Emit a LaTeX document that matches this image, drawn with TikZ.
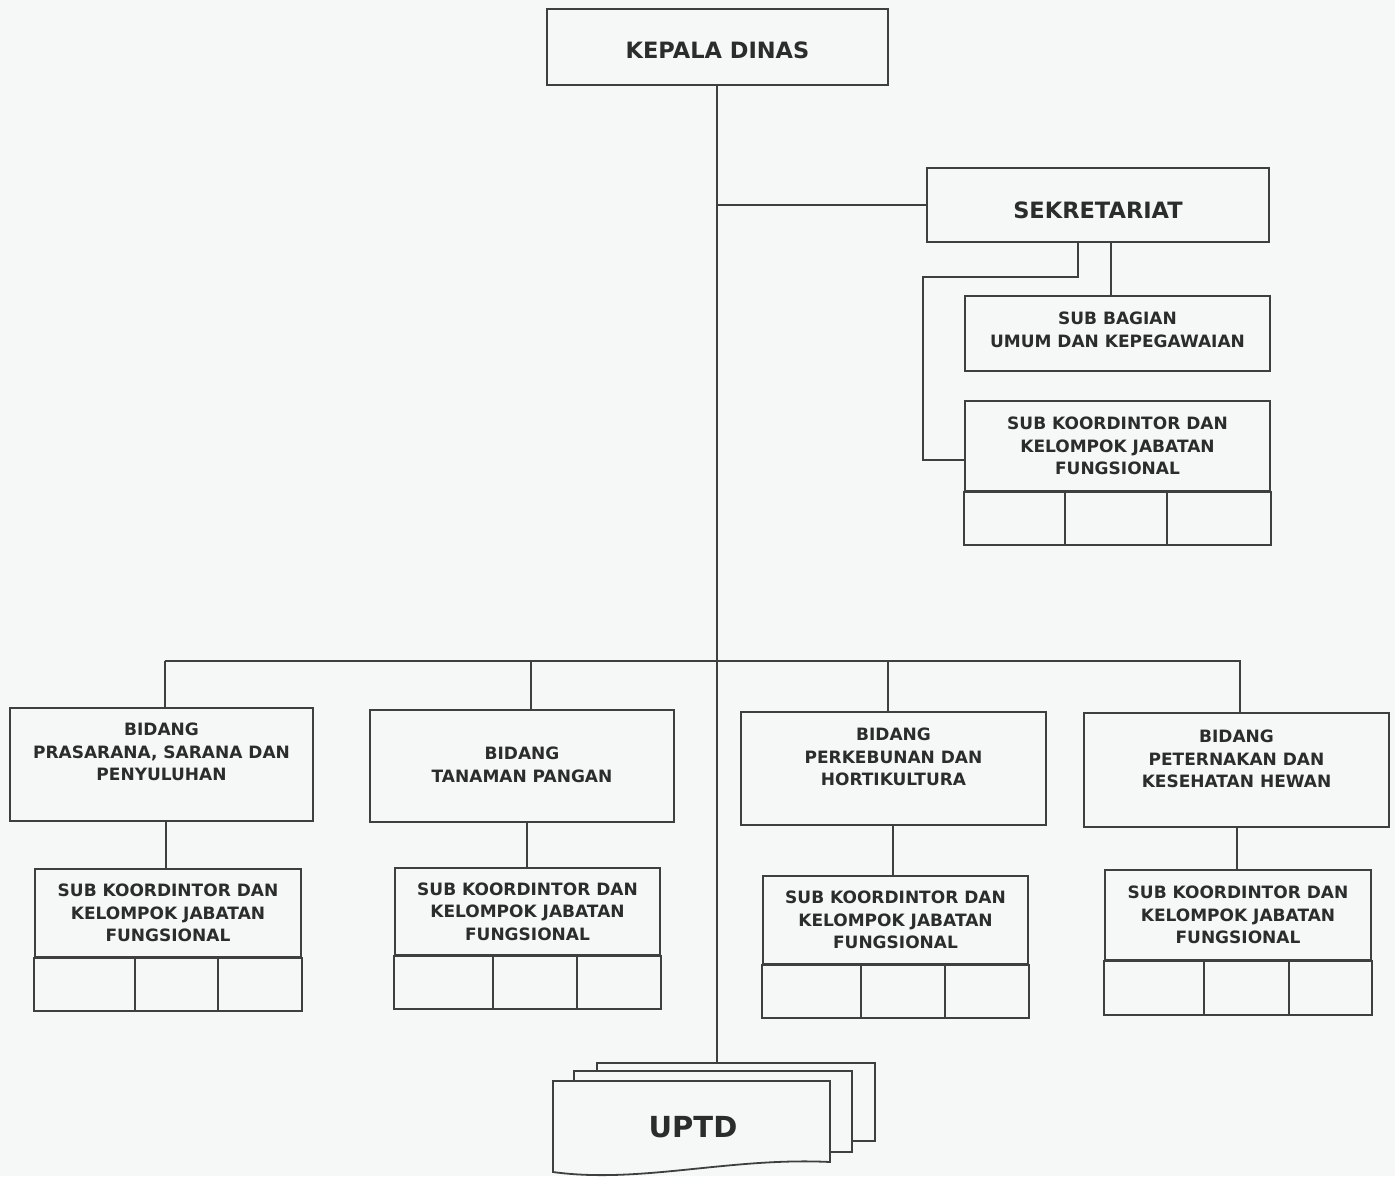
\documentclass[tikz,border=0pt]{standalone}
\usepackage{fontspec}
\setmainfont{DejaVu Sans}
\usetikzlibrary{calc}
\definecolor{lc}{HTML}{3F3F3F}
\definecolor{tc}{HTML}{2C2C2C}
\definecolor{bgc}{HTML}{F6F7F7}
\tikzset{
  box/.style={draw=lc, line width=1.8pt, inner sep=0pt, align=center, text=tc,
              font=\bfseries\fontsize{17}{22.5}\selectfont},
  lbl/.style={inner sep=0pt, align=center, text=tc, font=\bfseries\fontsize{17}{22.5}\selectfont},
  biglbl/.style={lbl, font=\bfseries\fontsize{22.5}{26}\selectfont},
  conn/.style={draw=lc, line width=1.8pt},
  pagebox/.style={draw=lc, line width=1.8pt, fill=bgc}
}
% sub koordinator box: name, cx, cy, width, height, cell height, v1, v2
\newcommand\subkbox[8]{%
  \node[box, minimum width=#4, minimum height=#5] (#1) at (#2,#3)
    {SUB KOORDINTOR DAN\\KELOMPOK JABATAN\\FUNGSIONAL};
  \draw[conn] (#1.south west) rectangle ([yshift=-#6]#1.south east);
  \draw[conn] ([xshift=#7]#1.south west) -- ++(0,#6);
  \draw[conn] ([xshift=#8]#1.south west) -- ++(0,#6);
}
\begin{document}
\begin{tikzpicture}[x=1pt,y=-1pt]
\fill[bgc] (0,0) rectangle (1395,1176);
\useasboundingbox (0,0) rectangle (1395,1176);

% top
\node[box, minimum width=341, minimum height=76] (kd) at (717.5,47) {};
\node[biglbl] (kdt) at ([yshift=-3.5]kd.center) {KEPALA DINAS};
\node[box, minimum width=342, minimum height=74] (sek) at (1098,205) {};
\node[biglbl] (sekt) at ([yshift=-5]sek.center) {SEKRETARIAT};
\node[box, minimum width=305, minimum height=75] (sb) at (1117.5,333.5) {};
\node[lbl] (sbt) at ([yshift=3.5]sb.center) {SUB BAGIAN\\UMUM DAN KEPEGAWAIAN};
\subkbox{sks}{1117.5}{446}{305}{90}{53}{101}{203}

% bidang
\node[box, minimum width=303, minimum height=113] (b1) at (161.5,764.5) {};
\node[box, minimum width=304, minimum height=112] (b2) at (522,766) {};
\node[box, minimum width=305, minimum height=113] (b3) at (893.5,768.5) {};
\node[box, minimum width=305, minimum height=114] (b4) at (1236.5,770) {};
\node[lbl] (b1t) at ([yshift=12.5]b1.center) {BIDANG\\PRASARANA, SARANA DAN\\PENYULUHAN};
\node[lbl] (b2t) at ([yshift=1]b2.center) {BIDANG\\TANAMAN PANGAN};
\node[lbl] (b3t) at ([yshift=11.5]b3.center) {BIDANG\\PERKEBUNAN DAN\\HORTIKULTURA};
\node[lbl] (b4t) at ([yshift=11]b4.center) {BIDANG\\PETERNAKAN DAN\\KESEHATAN HEWAN};

\subkbox{s1}{168}{913}{266}{88}{53}{101}{184}
\subkbox{s2}{527.5}{911.5}{265}{87}{53}{99}{183}
\subkbox{s3}{895.5}{920}{265}{88}{53}{99}{183}
\subkbox{s4}{1238}{915}{266}{90}{54}{100}{185}

% UPTD stacked pages
\node[pagebox, minimum width=278, minimum height=78, inner sep=0pt] (u3) at (736,1102) {};
\node[pagebox, minimum width=278, minimum height=81, inner sep=0pt] (u2) at (713,1111.5) {};
\draw[pagebox] (553,1081) -- (830,1081) -- (830,1162)
   .. controls (730,1157) and (640,1184) .. (553,1172) -- cycle;
\node[inner sep=0pt, text=tc, font=\bfseries\fontsize{29}{34}\selectfont] (uptd) at (693,1127) {UPTD};

% connectors
\coordinate (kdb) at ([xshift=-0.5]kd.south);
\draw[conn] (kdb) -- (kdb |- u3.north);
\draw[conn] (kdb |- sek.west) -- (sek.west);
\draw[conn] ([xshift=13]sek.south) -- ([xshift=13]sek.south |- sb.north);
\draw[conn] ([xshift=-20]sek.south) -- ++(0,34) -| ([xshift=-41,yshift=-14]sks.west) -- ([yshift=-14]sks.west);

\coordinate (t1) at ([xshift=3.5]b1.north);
\coordinate (t2) at ([xshift=9]b2.north);
\coordinate (t3) at ([xshift=-5.5]b3.north);
\coordinate (t4) at ([xshift=3.5]b4.north);
\draw[conn] (t1) -- ++(0,-46) coordinate (busL);
\draw[conn] (busL) -- (busL -| t4) -- (t4);
\draw[conn] (busL -| t2) -- (t2);
\draw[conn] (busL -| t3) -- (t3);

\coordinate (c1) at ([xshift=-2]s1.north);
\coordinate (c2) at ([xshift=-0.5]s2.north);
\coordinate (c3) at ([xshift=-2.5]s3.north);
\coordinate (c4) at ([xshift=-1]s4.north);
\draw[conn] (c1) -- (c1 |- b1.south);
\draw[conn] (c2) -- (c2 |- b2.south);
\draw[conn] (c3) -- (c3 |- b3.south);
\draw[conn] (c4) -- (c4 |- b4.south);
\end{tikzpicture}
\end{document}
